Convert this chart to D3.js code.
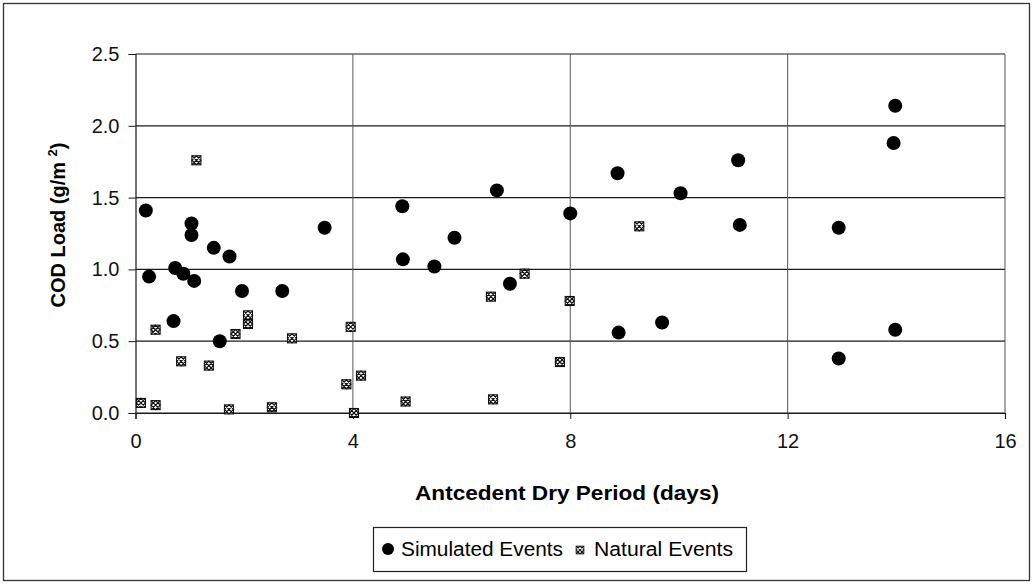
<!DOCTYPE html>
<html>
<head>
<meta charset="utf-8">
<script src="https://cdn.jsdelivr.net/npm/d3@7"></script>
<style>
  body { margin: 0; background: #fff; }
  svg { display: block; font-family: "Liberation Sans", Arial, sans-serif; }
</style>
</head>
<body>
<svg id="chart" width="1032" height="584"></svg>
<script>
// simulated events: [dry days, COD load]
const simulatedX = [0.19, 0.25, 0.73, 0.88, 1.08, 1.03, 1.03, 1.44, 1.73, 1.96, 2.70, 0.70, 1.55, 3.48,
  4.91, 4.92, 5.50, 5.87, 6.65, 6.89, 8.00, 8.87, 8.89, 9.69, 10.03, 11.09, 11.12, 12.94, 12.94, 13.95, 13.98, 13.98];
const simulatedY = [1.41, 0.95, 1.01, 0.97, 0.92, 1.32, 1.24, 1.15, 1.09, 0.85, 0.85, 0.64, 0.50, 1.29,
  1.44, 1.07, 1.02, 1.22, 1.55, 0.90, 1.39, 1.67, 0.56, 0.63, 1.53, 1.76, 1.31, 1.29, 0.38, 1.88, 2.14, 0.58];

const naturalX = [1.12, 0.37, 0.84, 1.35, 1.84, 2.07, 2.07, 2.88, 3.96, 3.88, 4.15, 4.02, 0.10, 0.37,
  1.72, 2.51, 4.97, 6.58, 6.54, 7.16, 7.99, 7.81, 9.27];
const naturalY = [1.76, 0.58, 0.36, 0.33, 0.55, 0.68, 0.62, 0.52, 0.60, 0.20, 0.26, 0.00, 0.07, 0.055,
  0.025, 0.04, 0.08, 0.095, 0.81, 0.97, 0.78, 0.355, 1.30];

const xTicks = [0, 4, 8, 12, 16];
const yTicks = [0, 0.5, 1.0, 1.5, 2.0, 2.5];

const svg = d3.select("#chart");
const plotL = 135.5, plotR = 1005, plotT = 54, plotB = 413;

const x = d3.scaleLinear().domain([0, 16]).range([plotL, plotR]);
const y = d3.scaleLinear().domain([0, 2.5]).range([plotB, plotT]);

// outer frame
svg.append("rect")
  .attr("x", 3.5).attr("y", 3.5).attr("width", 1026).attr("height", 577)
  .attr("fill", "none").attr("stroke", "#333").attr("stroke-width", 1.3);

// horizontal grid
svg.append("g").selectAll("line").data(yTicks).join("line")
  .attr("x1", plotL).attr("x2", plotR)
  .attr("y1", d => y(d)).attr("y2", d => y(d))
  .attr("stroke", "#1a1a1a").attr("stroke-width", 1.2);

// vertical grid
svg.append("g").selectAll("line").data(xTicks.slice(1)).join("line")
  .attr("x1", d => x(d)).attr("x2", d => x(d))
  .attr("y1", plotT).attr("y2", plotB)
  .attr("stroke", "#555").attr("stroke-width", 1);

// axes
const yAxis = svg.append("g")
  .attr("transform", `translate(${plotL},0)`)
  .call(d3.axisLeft(y).tickValues(yTicks).tickFormat(d3.format(".1f")).tickSize(7).tickPadding(9));
const xAxis = svg.append("g")
  .attr("transform", `translate(0,${plotB})`)
  .call(d3.axisBottom(x).tickValues(xTicks).tickSize(6).tickPadding(15));

[yAxis, xAxis].forEach(g => {
  g.select(".domain").attr("stroke", "#1a1a1a").attr("stroke-width", 1.2);
  g.selectAll(".tick line").attr("stroke", "#1a1a1a");
  g.selectAll("text").attr("font-size", 20).attr("fill", "#111")
    .attr("font-family", "Liberation Sans, Arial, sans-serif");
});

// natural events marker: small box with cross hatch
function naturalMark(g) {
  g.append("rect").attr("x", -4.5).attr("y", -4.5).attr("width", 9).attr("height", 9)
    .attr("fill", "#fff").attr("stroke", "#111").attr("stroke-width", 1.1);
  g.append("path").attr("d", "M-4.5,-4.5L4.5,4.5M4.5,-4.5L-4.5,4.5M-4.5,0L0,-4.5L4.5,0L0,4.5Z")
    .attr("fill", "none").attr("stroke", "#111").attr("stroke-width", 1.2);
}

svg.append("g").selectAll("g").data(d3.range(naturalX.length)).join("g")
  .attr("transform", i => `translate(${x(naturalX[i])},${y(naturalY[i])})`)
  .each(function () { naturalMark(d3.select(this)); });

svg.append("g").selectAll("circle").data(d3.range(simulatedX.length)).join("circle")
  .attr("cx", i => x(simulatedX[i]))
  .attr("cy", i => y(simulatedY[i]))
  .attr("r", 7)
  .attr("fill", "#000");

// axis titles
svg.append("text")
  .attr("x", 567).attr("y", 500)
  .attr("text-anchor", "middle")
  .attr("font-size", 21).attr("font-weight", "bold")
  .attr("textLength", 304).attr("lengthAdjust", "spacingAndGlyphs")
  .text("Antcedent Dry Period (days)");

const yt = svg.append("text")
  .attr("transform", "translate(65,225) rotate(-90)")
  .attr("text-anchor", "middle")
  .attr("font-size", 20).attr("font-weight", "bold");
yt.append("tspan").text("COD Load (g/m ");
yt.append("tspan").attr("font-size", 13).attr("dy", -8).text("2");
yt.append("tspan").attr("dy", 8).text(")");

// legend
const lg = svg.append("g");
lg.append("rect")
  .attr("x", 373.5).attr("y", 527.5).attr("width", 373).attr("height", 44)
  .attr("fill", "#fff").attr("stroke", "#222").attr("stroke-width", 1.2);
lg.append("circle").attr("cx", 388).attr("cy", 549).attr("r", 6).attr("fill", "#000");
lg.append("text").attr("x", 401).attr("y", 556).attr("font-size", 20)
  .attr("textLength", 162).attr("lengthAdjust", "spacingAndGlyphs").text("Simulated Events");
const lm = lg.append("g").attr("transform", "translate(580,550) scale(0.85)");
naturalMark(lm);
lg.append("text").attr("x", 594).attr("y", 556).attr("font-size", 20)
  .attr("textLength", 139).attr("lengthAdjust", "spacingAndGlyphs").text("Natural Events");
</script>
</body>
</html>
